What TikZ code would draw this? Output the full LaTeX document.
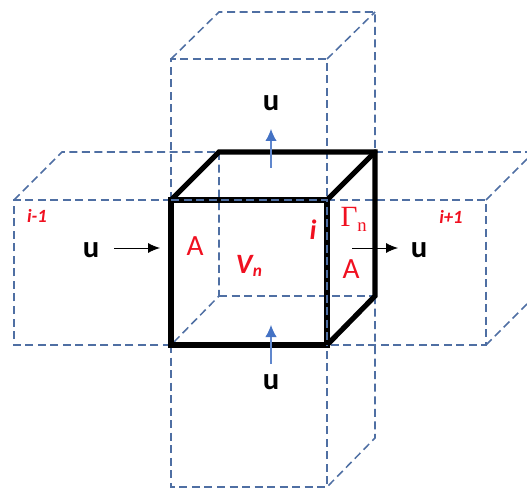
\documentclass[tikz,border=0pt]{standalone}
\usepackage{fontspec}
\setmainfont{Carlito}
\newfontfamily\gamfont{Liberation Serif}
\usetikzlibrary{arrows.meta}
\definecolor{dashblue}{HTML}{4F6FA3}
\definecolor{arrowblue}{HTML}{4472C4}
\definecolor{lab}{HTML}{F01020}
\tikzset{
  x=0.75pt,y=-0.75pt,
  dashedge/.style={draw=dashblue,line width=1.15pt,dash pattern=on 6pt off 3.4pt},
  solidedge/.style={draw=black,line width=3.9pt,line join=miter,line cap=round},
  flowblack/.style={draw=black,line width=0.65pt,-{Latex[length=9pt,width=7.5pt]}},
  flowblue/.style={draw=arrowblue!85,line width=0.8pt,-{Latex[length=9pt,width=8.5pt,color=arrowblue]}},
  ulabel/.style={font=\fontsize{23}{23}\selectfont\bfseries,text=black,inner sep=0pt},
  areatext/.style={font=\fontsize{22}{22}\selectfont,text=lab,inner sep=0pt},
  idxtext/.style={font=\fontsize{14}{14}\selectfont\bfseries\itshape,text=lab,inner sep=0pt}
}
\begin{document}
\begin{tikzpicture}
\useasboundingbox (0,0) rectangle (527,488);
\begin{scope}
\clip (0,0) rectangle (527,488);
% main cube corners
\coordinate (ftl) at (171,200); \coordinate (ftr) at (327,200);
\coordinate (fbl) at (171,345); \coordinate (fbr) at (327,345);
\coordinate (btl) at (219,152); \coordinate (btr) at (375,152);
\coordinate (bbl) at (219,296); \coordinate (bbr) at (375,296);
% left cube
\coordinate (l1) at (14,200); \coordinate (l2) at (14,345); \coordinate (l3) at (62,152);
% right cube
\coordinate (r1) at (486,200); \coordinate (r2) at (486,345);
\coordinate (r3) at (534,152); \coordinate (r4) at (534,297);
% top cube
\coordinate (t1) at (171,59); \coordinate (t2) at (327,59);
\coordinate (t3) at (219,12); \coordinate (t4) at (375,12);
% bottom cube
\coordinate (d1) at (171,487); \coordinate (d2) at (327,487); \coordinate (d3) at (375,438);
% dashed
\draw[dashedge] (fbl) -- (l2) -- (l1) -- (ftl);
\draw[dashedge] (l1) -- (l3) -- (btl);
\draw[dashedge] (btl) -- (bbl) -- (fbl);
\draw[dashedge] (bbl) -- (bbr);
\draw[dashedge] (ftr) -- (r1) -- (r2) -- (fbr);
\draw[dashedge] (btr) -- (r3);
\draw[dashedge] (r1) -- (r3);
\draw[dashedge] (r2) -- (r4);
\draw[dashedge] (ftl) -- (t1) -- (t2) -- (ftr);
\draw[dashedge] (t1) -- (t3) -- (t4) -- (btr);
\draw[dashedge] (t2) -- (t4);
\draw[dashedge] (fbl) -- (d1) -- (d2) -- (fbr);
\draw[dashedge] (bbr) -- (d3) -- (d2);
\end{scope}
% bold cube
\draw[solidedge] (ftl) -- (ftr) -- (fbr) -- (fbl) -- cycle;
\draw[solidedge] (ftl) -- (btl) -- (btr) -- (bbr) -- (fbr);
\draw[solidedge] (ftr) -- (btr);
% dashes over bold edges
\draw[dashedge,line width=0.8pt] (ftl) -- (ftr) -- (fbr);
% labels
\node[ulabel] (uleft) at (91,250) {u};
\node[ulabel] (uright) at (419,250) {u};
\node[ulabel] (utop) at (271,103) {u};
\node[ulabel] (ubot) at (271,382) {u};
\coordinate (al) at (114,248); \coordinate (ar) at (160,248);
\coordinate (bl) at (352,248); \coordinate (br) at (398,248);
\coordinate (cl) at (271,168); \coordinate (cr) at (271,129);
\coordinate (el) at (271,364); \coordinate (er) at (271,325);
\draw[flowblack] (al) -- (ar);
\draw[flowblack] (bl) -- (br);
\draw[flowblue] (cl) -- (cr);
\draw[flowblue] (el) -- (er);
\node[areatext] (aleft) at (195,246) {A};
\node[areatext] (aright) at (351,269) {A};
\node[font=\fontsize{21}{21}\selectfont\bfseries\itshape,text=lab,inner sep=0pt] (vn) at (249,266) {V\kern0.3pt\raisebox{-2.5pt}{\fontsize{13}{13}\selectfont n}};
\node[font=\fontsize{21}{21}\selectfont\bfseries\itshape,text=lab,inner sep=0pt] (ilabel) at (313,230) {i};
\node[text=lab,inner sep=0pt,font=\gamfont\fontsize{22}{22}\selectfont] (gamma) at (349,217) {Γ};
\node[text=lab,inner sep=0pt,font=\gamfont\fontsize{14}{14}\selectfont] (gamman) at (362,227) {n};
\node[idxtext] (iminus) at (37,216) {i-1};
\node[idxtext] (iplus) at (451,217) {i+1};
\end{tikzpicture}
\end{document}
